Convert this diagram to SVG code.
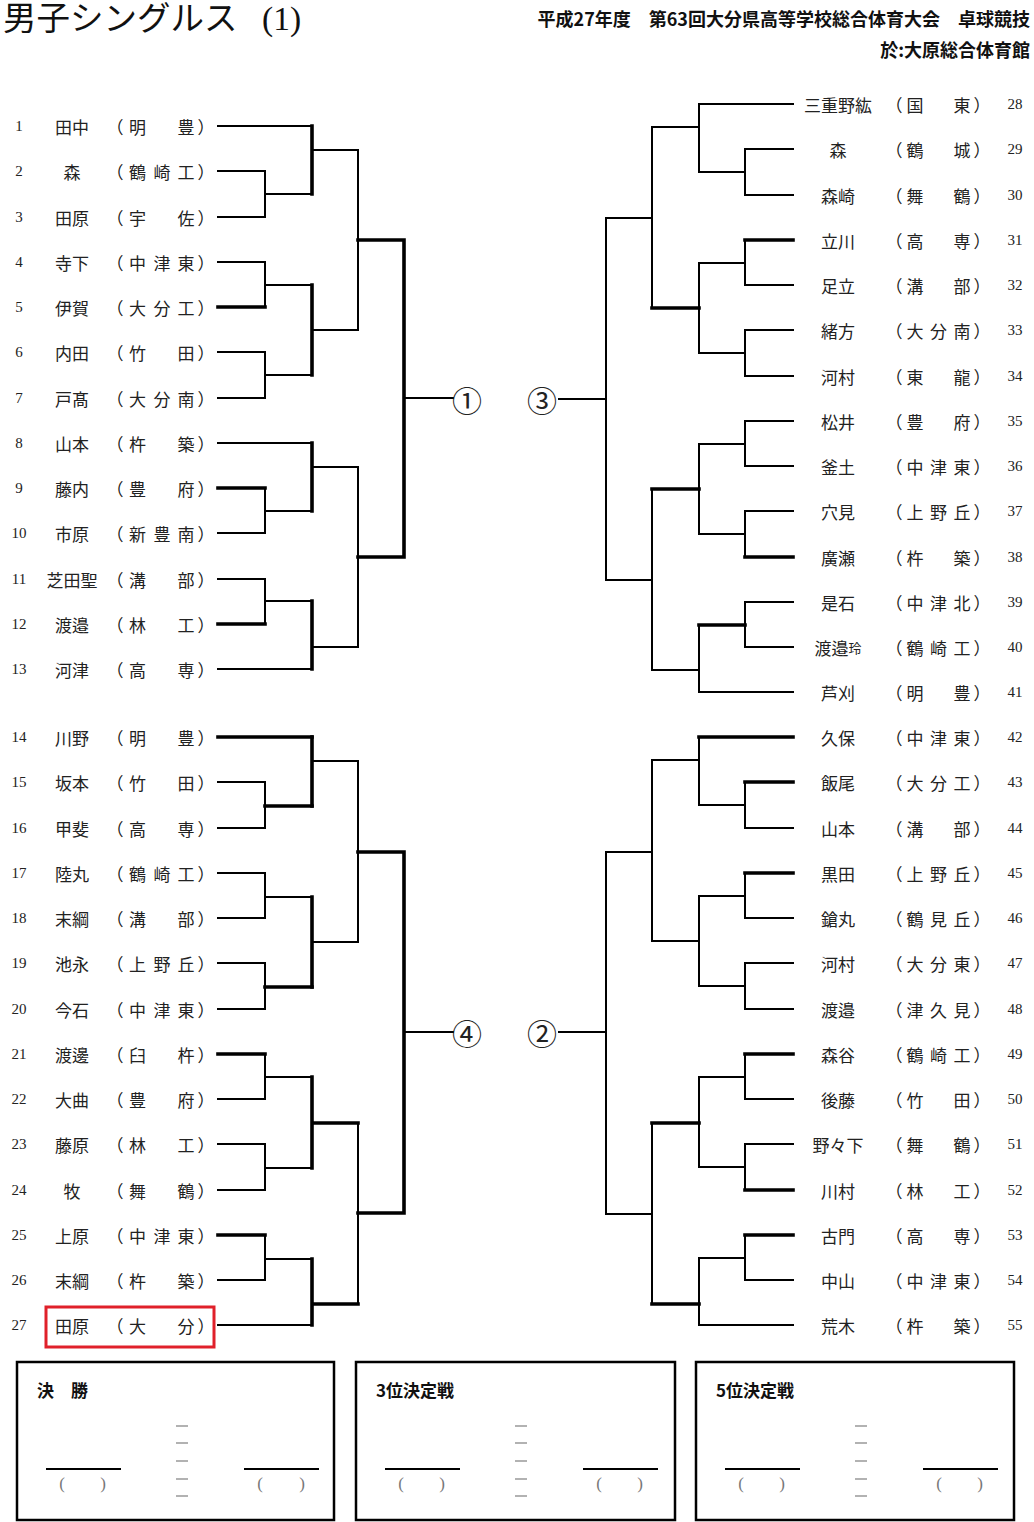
<svg xmlns="http://www.w3.org/2000/svg" width="1034" height="1522" viewBox="0 0 1034 1522">
<style>
.bg{fill:#fff}
.tn{fill:none;stroke:#000;stroke-width:2;stroke-linecap:square}
.tk{fill:none;stroke:#000;stroke-width:3.6;stroke-linecap:square}
.num{font-family:"Liberation Serif","DejaVu Serif",serif;font-size:15px;fill:#222;text-anchor:middle;dominant-baseline:central}
.nm{font-family:"Noto Sans CJK JP",sans-serif;font-size:17px;fill:#222;text-anchor:middle;dominant-baseline:central}
.sc{font-family:"Noto Sans CJK JP",sans-serif;font-size:17px;fill:#222;text-anchor:middle;dominant-baseline:central}
.cir{font-family:"Noto Sans CJK JP",sans-serif;font-size:30px;fill:#222;text-anchor:middle;dominant-baseline:central}
.hd{font-family:"Noto Sans CJK JP",sans-serif;font-size:18px;font-weight:bold;fill:#111;dominant-baseline:central}
.box{fill:none;stroke:#000;stroke-width:2.5}
.ul{stroke:#000;stroke-width:2}
.dash{stroke:#999;stroke-width:1.3}
.par{font-family:"Liberation Serif",serif;font-size:17px;fill:#777;text-anchor:middle;dominant-baseline:central}
.bt{font-family:"Noto Sans CJK JP",sans-serif;font-size:17px;font-weight:bold;fill:#111;dominant-baseline:central}
</style>
<rect class="bg" x="0" y="0" width="1034" height="1522"/>

<g id="header">
<text x="3" y="18" font-family="Liberation Serif,Noto Sans CJK JP,serif" font-size="33.5" fill="#111" dominant-baseline="central">男子シングルス <tspan x="262">(1)</tspan></text>
<text class="hd" x="1030" y="18" text-anchor="end">平成27年度　第63回大分県高等学校総合体育大会　卓球競技</text>
<text class="hd" x="1030" y="49" text-anchor="end">於:大原総合体育館</text>
</g>

<g id="connectors">
<!-- left top -->
<path class="tn" d="M218 126H312M218 171H265M218 217H265M218 262H265M218 352H265M218 398H265M218 443H312M218 533H265M218 579H265M218 669H312"/>
<path class="tk" d="M218 307H265M218 488H265M218 624H265"/>
<path class="tn" d="M265 171V217M265 194H312M265 262V307M265 285H312M265 352V398M265 375H312M265 488V533M265 511H312M265 579V624M265 601H312"/>
<path class="tk" d="M312 126V194M312 285V375M312 443V511M312 601V669"/>
<path class="tn" d="M312 150H358M312 330H358M312 467H358M312 647H358M358 150V330M358 467V647M404 398H453"/>
<path class="tk" d="M358 240H404M358 557H404M404 240V557"/>
<!-- left bottom -->
<path class="tn" d="M218 782H265M218 828H265M218 873H265M218 918H265M218 963H265M218 1009H265M218 1099H265M218 1144H265M218 1190H265M218 1280H265M218 1325H312"/>
<path class="tk" d="M218 737H312M218 1054H265M218 1235H265"/>
<path class="tn" d="M265 782V828M265 873V918M265 897H312M265 963V1009M265 1054V1099M265 1077H312M265 1144V1190M265 1168H312M265 1235V1280M265 1259H312"/>
<path class="tk" d="M265 806H312M265 987H312"/>
<path class="tk" d="M312 737V806M312 897V987M312 1077V1168M312 1259V1325M312 1123H358M312 1304H358"/>
<path class="tn" d="M312 761H358M312 942H358M358 761V942M358 1123V1304M404 1032H453"/>
<path class="tk" d="M358 852H404M358 1213H404M404 852V1213"/>
<!-- right top -->
<path class="tn" d="M699 104H793M745 149H793M745 195H793M745 285H793M745 330H793M745 376H793M745 421H793M745 466H793M745 511H793M745 602H793M745 647H793M699 692H793"/>
<path class="tk" d="M745 240H793M745 557H793"/>
<path class="tn" d="M745 149V195M745 172H699M745 240V285M745 263H699M745 330V376M745 353H699M745 421V466M745 444H699M745 511V557M745 534H699M745 602V647"/>
<path class="tk" d="M745 625H699"/>
<path class="tn" d="M699 104V172M699 127H652M699 263V353M699 444V534M699 625V692M699 670H652"/>
<path class="tk" d="M699 308H652M699 489H652"/>
<path class="tn" d="M652 127V308M652 218H606M652 489V670M652 580H606M606 218V580M606 399H559"/>
<!-- right bottom -->
<path class="tn" d="M745 828H793M745 918H793M745 963H793M745 1009H793M745 1099H793M745 1144H793M745 1280H793M699 1325H793"/>
<path class="tk" d="M699 737H793M745 782H793M745 873H793M745 1054H793M745 1190H793M745 1235H793"/>
<path class="tn" d="M745 782V828M745 805H699M745 873V918M745 896H699M745 963V1009M745 986H699M745 1054V1099M745 1077H699M745 1144V1190M745 1167H699M745 1235V1280M745 1258H699"/>
<path class="tn" d="M699 737V805M699 760H652M699 896V986M699 941H652M699 1077V1167M699 1258V1325"/>
<path class="tk" d="M699 1123H652M699 1304H652"/>
<path class="tn" d="M652 760V941M652 852H606M652 1123V1304M652 1214H606M606 852V1214M606 1032H559"/>
</g>

<g id="rounds">
<text class="cir" x="467" y="399">①</text>
<text class="cir" x="542" y="399">③</text>
<text class="cir" x="467" y="1032">④</text>
<text class="cir" x="542" y="1032">②</text>
</g>

<g id="left-players">
<g id="p1"><text class="num" x="19" y="126">1</text><text class="nm" x="72" y="126">田中</text><text class="sc" x="115 137.5 162 186 206" y="126">（明　豊）</text></g>
<g id="p2"><text class="num" x="19" y="171">2</text><text class="nm" x="72" y="171">森</text><text class="sc" x="115 137.5 162 186 206" y="171">（鶴崎工）</text></g>
<g id="p3"><text class="num" x="19" y="217">3</text><text class="nm" x="72" y="217">田原</text><text class="sc" x="115 137.5 162 186 206" y="217">（宇　佐）</text></g>
<g id="p4"><text class="num" x="19" y="262">4</text><text class="nm" x="72" y="262">寺下</text><text class="sc" x="115 137.5 162 186 206" y="262">（中津東）</text></g>
<g id="p5"><text class="num" x="19" y="307">5</text><text class="nm" x="72" y="307">伊賀</text><text class="sc" x="115 137.5 162 186 206" y="307">（大分工）</text></g>
<g id="p6"><text class="num" x="19" y="352">6</text><text class="nm" x="72" y="352">内田</text><text class="sc" x="115 137.5 162 186 206" y="352">（竹　田）</text></g>
<g id="p7"><text class="num" x="19" y="398">7</text><text class="nm" x="72" y="398">戸髙</text><text class="sc" x="115 137.5 162 186 206" y="398">（大分南）</text></g>
<g id="p8"><text class="num" x="19" y="443">8</text><text class="nm" x="72" y="443">山本</text><text class="sc" x="115 137.5 162 186 206" y="443">（杵　築）</text></g>
<g id="p9"><text class="num" x="19" y="488">9</text><text class="nm" x="72" y="488">藤内</text><text class="sc" x="115 137.5 162 186 206" y="488">（豊　府）</text></g>
<g id="p10"><text class="num" x="19" y="533">10</text><text class="nm" x="72" y="533">市原</text><text class="sc" x="115 137.5 162 186 206" y="533">（新豊南）</text></g>
<g id="p11"><text class="num" x="19" y="579">11</text><text class="nm" x="72" y="579">芝田聖</text><text class="sc" x="115 137.5 162 186 206" y="579">（溝　部）</text></g>
<g id="p12"><text class="num" x="19" y="624">12</text><text class="nm" x="72" y="624">渡邉</text><text class="sc" x="115 137.5 162 186 206" y="624">（林　工）</text></g>
<g id="p13"><text class="num" x="19" y="669">13</text><text class="nm" x="72" y="669">河津</text><text class="sc" x="115 137.5 162 186 206" y="669">（高　専）</text></g>
<g id="p14"><text class="num" x="19" y="737">14</text><text class="nm" x="72" y="737">川野</text><text class="sc" x="115 137.5 162 186 206" y="737">（明　豊）</text></g>
<g id="p15"><text class="num" x="19" y="782">15</text><text class="nm" x="72" y="782">坂本</text><text class="sc" x="115 137.5 162 186 206" y="782">（竹　田）</text></g>
<g id="p16"><text class="num" x="19" y="828">16</text><text class="nm" x="72" y="828">甲斐</text><text class="sc" x="115 137.5 162 186 206" y="828">（高　専）</text></g>
<g id="p17"><text class="num" x="19" y="873">17</text><text class="nm" x="72" y="873">陸丸</text><text class="sc" x="115 137.5 162 186 206" y="873">（鶴崎工）</text></g>
<g id="p18"><text class="num" x="19" y="918">18</text><text class="nm" x="72" y="918">末綱</text><text class="sc" x="115 137.5 162 186 206" y="918">（溝　部）</text></g>
<g id="p19"><text class="num" x="19" y="963">19</text><text class="nm" x="72" y="963">池永</text><text class="sc" x="115 137.5 162 186 206" y="963">（上野丘）</text></g>
<g id="p20"><text class="num" x="19" y="1009">20</text><text class="nm" x="72" y="1009">今石</text><text class="sc" x="115 137.5 162 186 206" y="1009">（中津東）</text></g>
<g id="p21"><text class="num" x="19" y="1054">21</text><text class="nm" x="72" y="1054">渡邊</text><text class="sc" x="115 137.5 162 186 206" y="1054">（臼　杵）</text></g>
<g id="p22"><text class="num" x="19" y="1099">22</text><text class="nm" x="72" y="1099">大曲</text><text class="sc" x="115 137.5 162 186 206" y="1099">（豊　府）</text></g>
<g id="p23"><text class="num" x="19" y="1144">23</text><text class="nm" x="72" y="1144">藤原</text><text class="sc" x="115 137.5 162 186 206" y="1144">（林　工）</text></g>
<g id="p24"><text class="num" x="19" y="1190">24</text><text class="nm" x="72" y="1190">牧</text><text class="sc" x="115 137.5 162 186 206" y="1190">（舞　鶴）</text></g>
<g id="p25"><text class="num" x="19" y="1235">25</text><text class="nm" x="72" y="1235">上原</text><text class="sc" x="115 137.5 162 186 206" y="1235">（中津東）</text></g>
<g id="p26"><text class="num" x="19" y="1280">26</text><text class="nm" x="72" y="1280">末綱</text><text class="sc" x="115 137.5 162 186 206" y="1280">（杵　築）</text></g>
<g id="p27"><text class="num" x="19" y="1325">27</text><text class="nm" x="72" y="1325">田原</text><text class="sc" x="115 137.5 162 186 206" y="1325">（大　分）</text>
<rect x="46" y="1307" width="168" height="40" fill="none" stroke="#e0202a" stroke-width="3"/></g>
</g>

<g id="right-players">
<g id="p28"><text class="nm" x="838" y="104">三重野紘</text><text class="sc" x="894 915 938.5 962 982" y="104">（国　東）</text><text class="num" x="1015" y="104">28</text></g>
<g id="p29"><text class="nm" x="838" y="149">森</text><text class="sc" x="894 915 938.5 962 982" y="149">（鶴　城）</text><text class="num" x="1015" y="149">29</text></g>
<g id="p30"><text class="nm" x="838" y="195">森崎</text><text class="sc" x="894 915 938.5 962 982" y="195">（舞　鶴）</text><text class="num" x="1015" y="195">30</text></g>
<g id="p31"><text class="nm" x="838" y="240">立川</text><text class="sc" x="894 915 938.5 962 982" y="240">（高　専）</text><text class="num" x="1015" y="240">31</text></g>
<g id="p32"><text class="nm" x="838" y="285">足立</text><text class="sc" x="894 915 938.5 962 982" y="285">（溝　部）</text><text class="num" x="1015" y="285">32</text></g>
<g id="p33"><text class="nm" x="838" y="330">緒方</text><text class="sc" x="894 915 938.5 962 982" y="330">（大分南）</text><text class="num" x="1015" y="330">33</text></g>
<g id="p34"><text class="nm" x="838" y="376">河村</text><text class="sc" x="894 915 938.5 962 982" y="376">（東　龍）</text><text class="num" x="1015" y="376">34</text></g>
<g id="p35"><text class="nm" x="838" y="421">松井</text><text class="sc" x="894 915 938.5 962 982" y="421">（豊　府）</text><text class="num" x="1015" y="421">35</text></g>
<g id="p36"><text class="nm" x="838" y="466">釜土</text><text class="sc" x="894 915 938.5 962 982" y="466">（中津東）</text><text class="num" x="1015" y="466">36</text></g>
<g id="p37"><text class="nm" x="838" y="511">穴見</text><text class="sc" x="894 915 938.5 962 982" y="511">（上野丘）</text><text class="num" x="1015" y="511">37</text></g>
<g id="p38"><text class="nm" x="838" y="557">廣瀬</text><text class="sc" x="894 915 938.5 962 982" y="557">（杵　築）</text><text class="num" x="1015" y="557">38</text></g>
<g id="p39"><text class="nm" x="838" y="602">是石</text><text class="sc" x="894 915 938.5 962 982" y="602">（中津北）</text><text class="num" x="1015" y="602">39</text></g>
<g id="p40"><text class="nm" x="838" y="647">渡邉<tspan font-size="13">玲</tspan></text><text class="sc" x="894 915 938.5 962 982" y="647">（鶴崎工）</text><text class="num" x="1015" y="647">40</text></g>
<g id="p41"><text class="nm" x="838" y="692">芦刈</text><text class="sc" x="894 915 938.5 962 982" y="692">（明　豊）</text><text class="num" x="1015" y="692">41</text></g>
<g id="p42"><text class="nm" x="838" y="737">久保</text><text class="sc" x="894 915 938.5 962 982" y="737">（中津東）</text><text class="num" x="1015" y="737">42</text></g>
<g id="p43"><text class="nm" x="838" y="782">飯尾</text><text class="sc" x="894 915 938.5 962 982" y="782">（大分工）</text><text class="num" x="1015" y="782">43</text></g>
<g id="p44"><text class="nm" x="838" y="828">山本</text><text class="sc" x="894 915 938.5 962 982" y="828">（溝　部）</text><text class="num" x="1015" y="828">44</text></g>
<g id="p45"><text class="nm" x="838" y="873">黒田</text><text class="sc" x="894 915 938.5 962 982" y="873">（上野丘）</text><text class="num" x="1015" y="873">45</text></g>
<g id="p46"><text class="nm" x="838" y="918">鎗丸</text><text class="sc" x="894 915 938.5 962 982" y="918">（鶴見丘）</text><text class="num" x="1015" y="918">46</text></g>
<g id="p47"><text class="nm" x="838" y="963">河村</text><text class="sc" x="894 915 938.5 962 982" y="963">（大分東）</text><text class="num" x="1015" y="963">47</text></g>
<g id="p48"><text class="nm" x="838" y="1009">渡邉</text><text class="sc" x="894 915 938.5 962 982" y="1009">（津久見）</text><text class="num" x="1015" y="1009">48</text></g>
<g id="p49"><text class="nm" x="838" y="1054">森谷</text><text class="sc" x="894 915 938.5 962 982" y="1054">（鶴崎工）</text><text class="num" x="1015" y="1054">49</text></g>
<g id="p50"><text class="nm" x="838" y="1099">後藤</text><text class="sc" x="894 915 938.5 962 982" y="1099">（竹　田）</text><text class="num" x="1015" y="1099">50</text></g>
<g id="p51"><text class="nm" x="838" y="1144">野々下</text><text class="sc" x="894 915 938.5 962 982" y="1144">（舞　鶴）</text><text class="num" x="1015" y="1144">51</text></g>
<g id="p52"><text class="nm" x="838" y="1190">川村</text><text class="sc" x="894 915 938.5 962 982" y="1190">（林　工）</text><text class="num" x="1015" y="1190">52</text></g>
<g id="p53"><text class="nm" x="838" y="1235">古門</text><text class="sc" x="894 915 938.5 962 982" y="1235">（高　専）</text><text class="num" x="1015" y="1235">53</text></g>
<g id="p54"><text class="nm" x="838" y="1280">中山</text><text class="sc" x="894 915 938.5 962 982" y="1280">（中津東）</text><text class="num" x="1015" y="1280">54</text></g>
<g id="p55"><text class="nm" x="838" y="1325">荒木</text><text class="sc" x="894 915 938.5 962 982" y="1325">（杵　築）</text><text class="num" x="1015" y="1325">55</text></g>
</g>

<g id="final-box">
<rect class="box" x="17" y="1362" width="317" height="158"/>
<text class="bt" x="37" y="1389">決　勝</text>
<line class="ul" x1="46" y1="1469" x2="121" y2="1469"/>
<line class="ul" x1="244" y1="1469" x2="319" y2="1469"/>
<text class="par" x="62 103" y="1483">()</text>
<text class="par" x="260 302" y="1483">()</text>
<path class="dash" d="M176 1426H188M176 1443H188M176 1461H188M176 1479H188M176 1496H188"/>
</g>
<g id="third-box">
<rect class="box" x="356" y="1362" width="319" height="158"/>
<text class="bt" x="376" y="1389">3位決定戦</text>
<line class="ul" x1="385" y1="1469" x2="460" y2="1469"/>
<line class="ul" x1="583" y1="1469" x2="658" y2="1469"/>
<text class="par" x="401 442" y="1483">()</text>
<text class="par" x="599 640" y="1483">()</text>
<path class="dash" d="M515 1426H527M515 1443H527M515 1461H527M515 1479H527M515 1496H527"/>
</g>
<g id="fifth-box">
<rect class="box" x="696" y="1362" width="318" height="158"/>
<text class="bt" x="716" y="1389">5位決定戦</text>
<line class="ul" x1="725" y1="1469" x2="800" y2="1469"/>
<line class="ul" x1="923" y1="1469" x2="998" y2="1469"/>
<text class="par" x="741 782" y="1483">()</text>
<text class="par" x="939 980" y="1483">()</text>
<path class="dash" d="M855 1426H867M855 1443H867M855 1461H867M855 1479H867M855 1496H867"/>
</g>
</svg>
